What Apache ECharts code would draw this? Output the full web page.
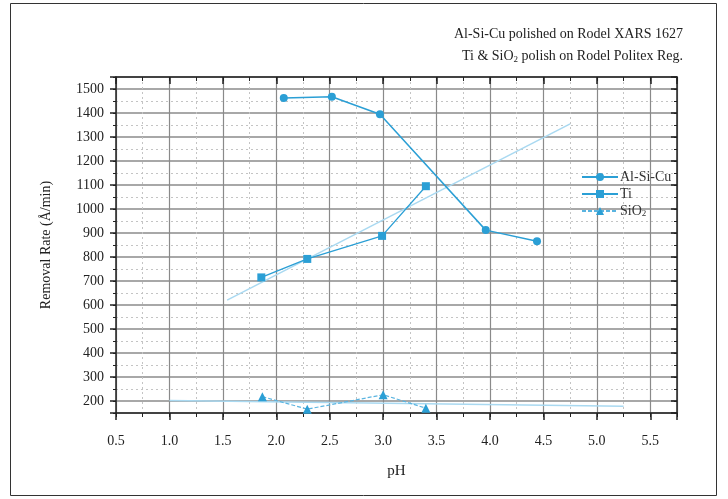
<!DOCTYPE html>
<html>
<head>
<meta charset="utf-8">
<script src="https://cdn.jsdelivr.net/npm/echarts@6/dist/echarts.min.js"></script>
<style>
  html, body { margin: 0; padding: 0; background: #fff; }
  #chart { width: 728px; height: 499px; }
</style>
</head>
<body>
<div id="chart"></div>
<script>
// data
var phAlSiCu = [2.07, 2.52, 2.97, 3.96, 4.44];
var rateAlSiCu = [1462, 1468, 1395, 912, 866];
var phTi = [1.86, 2.29, 2.99, 3.40];
var rateTi = [715, 792, 888, 1095];
var phSiO2 = [1.87, 2.29, 3.00, 3.40];
var rateSiO2 = [218, 166, 226, 170];
// light fit lines
var phTiFit = [1.54, 4.75];
var rateTiFit = [620, 1355];
var phSiO2Fit = [1.0, 5.25];
var rateSiO2Fit = [202, 178];

var serif = 'Liberation Serif';
var blue = '#2b9fd5';
var lightBlue = '#a9d9f1';

function pairs(xs, ys) {
    return xs.map(function(x, i) { return [x, ys[i]]; });
}

var chart = echarts.init(document.getElementById('chart'));

function xAx(pos, major, withLabel) {
    return {
        type: 'value', position: pos, min: 0.5, max: 5.75,
        interval: major ? 0.5 : 0.25,
        axisLine: { show: major, onZero: false, lineStyle: { color: '#222', width: 1.5 } },
        axisTick: { show: true, inside: pos === 'top', length: major ? 7 : 4,
                    lineStyle: { color: '#222', width: major ? 1.5 : 1 } },
        axisLabel: {
            show: withLabel, margin: 21, color: '#222', fontFamily: serif, fontSize: 14,
            formatter: function(v) {
                return Math.abs(v * 2 - Math.round(v * 2)) < 1e-6 && v < 5.6 ? v.toFixed(1) : '';
            }
        },
        splitLine: { show: pos === 'bottom',
                     lineStyle: major ? { color: '#8a8a8a', width: 1.2 } : { color: '#c4c4c4', type: [2, 3] } },
        name: withLabel ? 'pH' : '', nameLocation: 'middle', nameGap: 51,
        nameTextStyle: { fontFamily: serif, fontSize: 15, color: '#222' }
    };
}

function yAx(pos, major, withLabel) {
    var o = {
        type: 'value', position: pos, min: 150, max: 1550,
        axisLine: { show: major, onZero: false, lineStyle: { color: '#222', width: 1.5 } },
        axisTick: { show: true, inside: pos === 'right', length: major ? 6 : 3,
                    lineStyle: { color: '#222', width: major ? 1.5 : 1 } },
        axisLabel: {
            show: withLabel, margin: 12, color: '#222', fontFamily: serif, fontSize: 14,
            formatter: function(v) { return v % 100 === 0 ? String(v) : ''; }
        },
        splitLine: { show: pos === 'left',
                     lineStyle: major ? { color: '#a8a8a8', width: 1.8 } : { color: '#c4c4c4', type: [2, 3] } },
        name: withLabel ? 'Removal Rate (Å/min)' : '', nameLocation: 'middle', nameGap: 63,
        nameTextStyle: { fontFamily: serif, fontSize: 14, color: '#222' }
    };
    if (major) { o.splitNumber = 14; } else { o.interval = 50; }
    return o;
}

var option = {
    backgroundColor: '#fff',
    animation: false,
    grid: { left: 116, right: 51, top: 77, bottom: 86 },
    xAxis: [xAx('bottom', false, false), xAx('bottom', true, true), xAx('top', false, false), xAx('top', true, false)],
    yAxis: [yAx('left', false, false), yAx('left', true, true), yAx('right', false, false), yAx('right', true, false)],
    legend: {
        orient: 'vertical', left: 576, top: 165, itemWidth: 36, itemHeight: 10, itemGap: 3,
        data: ['Al-Si-Cu', 'Ti', 'SiO2'],
        textStyle: {
            fontFamily: serif, fontSize: 14, color: '#333', padding: [0, 0, 0, -3],
            rich: {
                n: { fontFamily: serif, fontSize: 14, color: '#333' },
                s: { fontFamily: serif, fontSize: 9, color: '#333', padding: [6, 0, 0, 0] }
            }
        },
        formatter: function(name) {
            return name === 'SiO2' ? '{n|SiO}{s|2}' : name;
        }
    },
    graphic: [
        { type: 'rect', shape: { x: 10.5, y: 3.5, width: 706, height: 492 },
          style: { fill: 'none', stroke: '#333', lineWidth: 1 }, silent: true },
        { type: 'text', right: 45, top: 27,
          style: { text: 'Al-Si-Cu polished on Rodel XARS 1627', font: '14px "Liberation Serif"', fill: '#222' } },
        { type: 'text', right: 45, top: 49,
          style: {
              text: '{n|Ti & SiO}{s|2}{n| polish on Rodel Politex Reg.}',
              rich: {
                  n: { font: '14px "Liberation Serif"', fill: '#222' },
                  s: { font: '9px "Liberation Serif"', fill: '#222', padding: [7, 0, 0, 0] }
              }
          } }
    ],
    series: [
        {
            name: 'Al-Si-Cu', type: 'line', xAxisIndex: 1, yAxisIndex: 1,
            data: pairs(phAlSiCu, rateAlSiCu),
            symbol: 'circle', symbolSize: 8,
            itemStyle: { color: blue }, lineStyle: { color: blue, width: 1.5 }, z: 5
        },
        {
            name: 'Ti', type: 'line', xAxisIndex: 1, yAxisIndex: 1,
            data: pairs(phTi, rateTi),
            symbol: 'rect', symbolSize: 8,
            itemStyle: { color: blue }, lineStyle: { color: blue, width: 1.3 }, z: 5
        },
        {
            name: 'SiO2', type: 'line', xAxisIndex: 1, yAxisIndex: 1,
            data: pairs(phSiO2, rateSiO2),
            symbol: 'triangle', symbolSize: 9,
            itemStyle: { color: blue }, lineStyle: { color: '#5ab4e0', width: 1.2, type: [4, 2] }, z: 5
        },
        {
            name: 'Ti fit', type: 'line', xAxisIndex: 1, yAxisIndex: 1,
            data: pairs(phTiFit, rateTiFit), symbol: 'none',
            lineStyle: { color: lightBlue, width: 1.5 }, z: 4
        },
        {
            name: 'SiO2 fit', type: 'line', xAxisIndex: 1, yAxisIndex: 1,
            data: pairs(phSiO2Fit, rateSiO2Fit), symbol: 'none',
            lineStyle: { color: lightBlue, width: 1.5 }, z: 4
        }
    ]
};

chart.setOption(option);
</script>
</body>
</html>
